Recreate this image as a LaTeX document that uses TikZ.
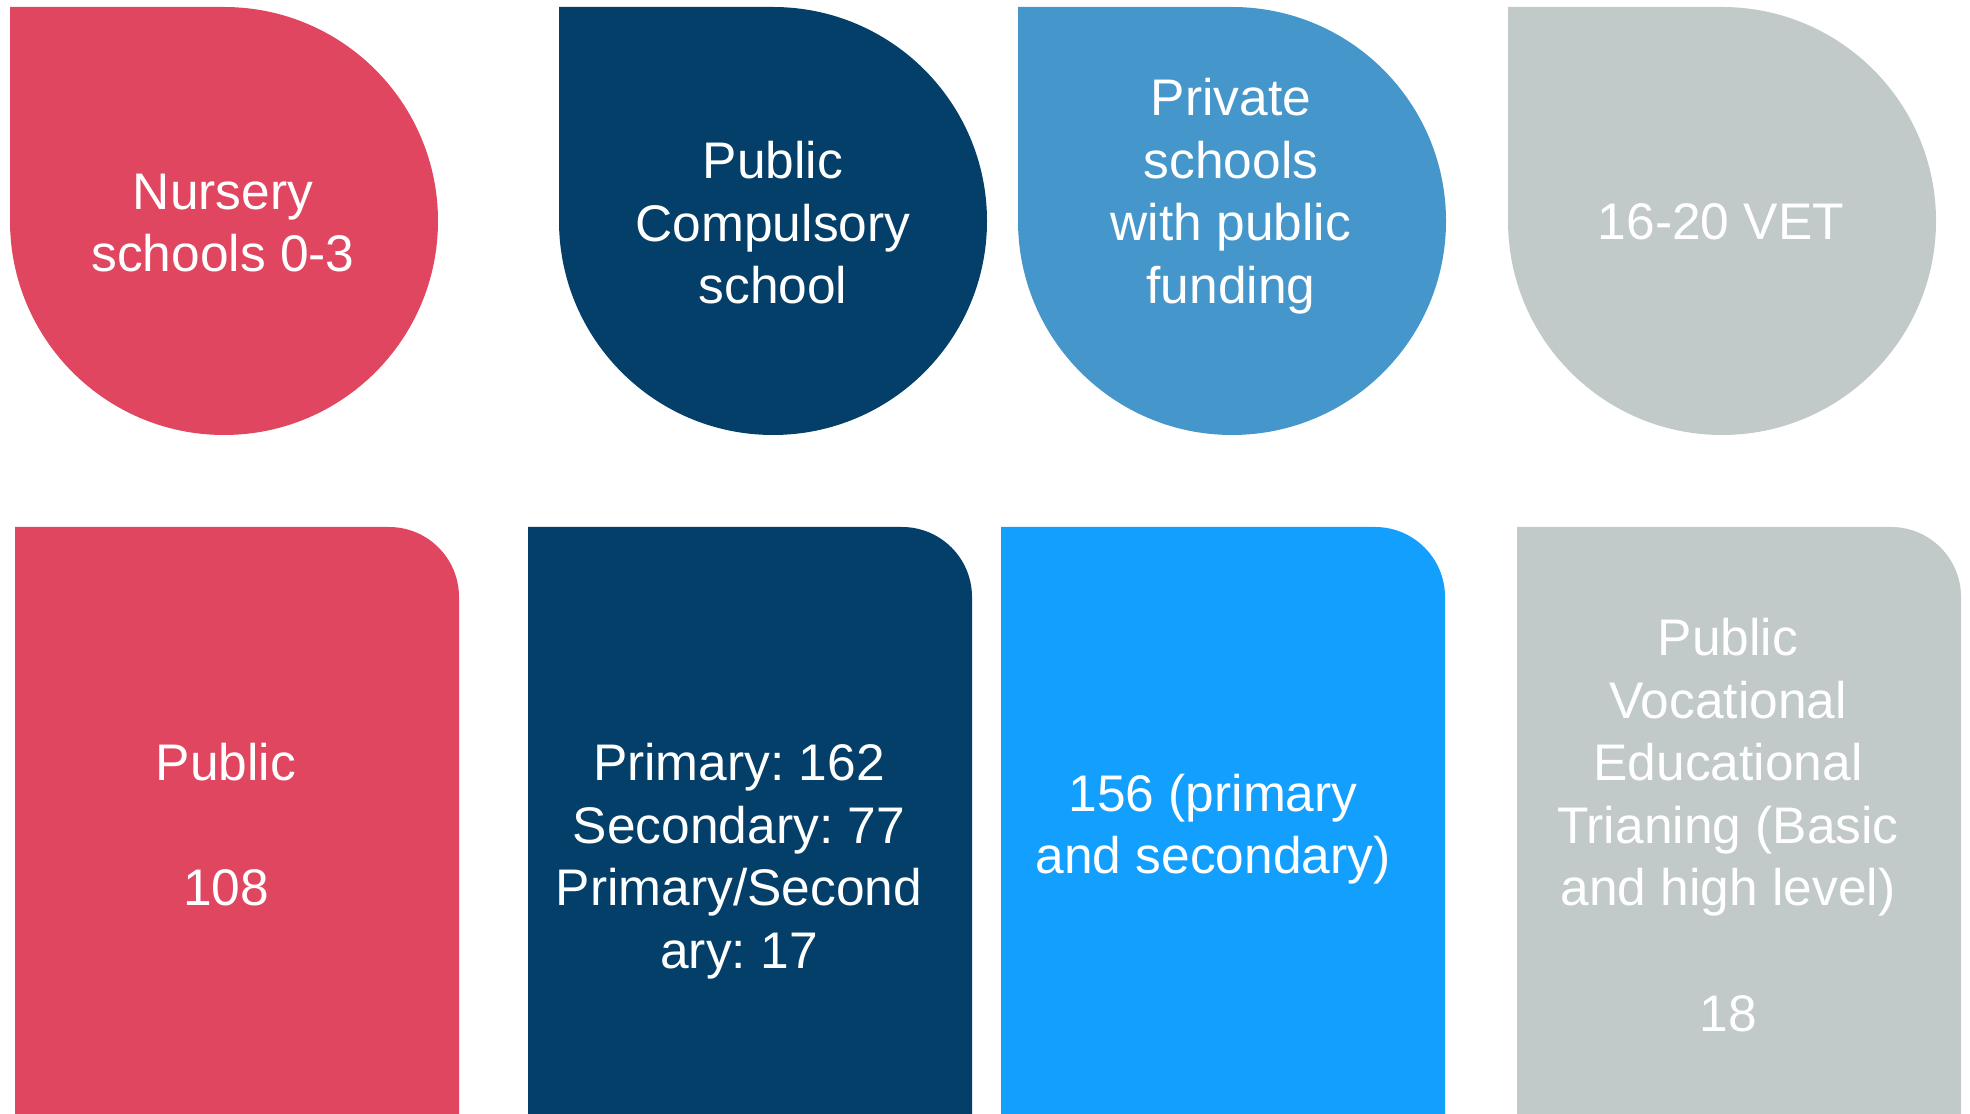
\documentclass[tikz,border=0pt]{standalone}
\usepackage{fontspec}
\setmainfont{Liberation Sans}
\frenchspacing
\definecolor{cred}{HTML}{E0465F}
\definecolor{cnavy}{HTML}{033F69}
\definecolor{cmid}{HTML}{4596CA}
\definecolor{cgrey}{HTML}{C2C9C9}
\definecolor{cbright}{HTML}{129FFE}
\begin{document}
\begin{tikzpicture}[x=0.1mm,y=0.1mm,
  lbl/.style={text=white,align=center,inner sep=0pt,font=\fontsize{14.65pt}{17.8pt}\selectfont\frenchspacing}]
\useasboundingbox (0,0) rectangle (1970,1113);
% teardrops (top row)
\newcommand{\drop}[2]{\fill[#2] (#1,1106) -- ++(214,0) arc[start angle=90,end angle=-180,radius=214] -- cycle;}
\drop{10}{cred}
\drop{559}{cnavy}
\drop{1018}{cmid}
\drop{1508}{cgrey}
% boxes (bottom row)
\newcommand{\card}[3]{\fill[#3] (#1,-5) -- (#1,586) -- ({#2-70},586) arc[start angle=90,end angle=0,radius=70] -- (#2,-5) -- cycle;}
\card{15}{459}{cred}
\card{528}{972}{cnavy}
\card{1001}{1445}{cbright}
\card{1517}{1961}{cgrey}
% texts
\node[lbl] (t1) at (223,890) {Nursery\\schools 0-3};
\node[lbl] (t2) at (773,890) {Public\\Compulsory\\school};
\node[lbl] (t3) at (1231,917) {Private\\schools\\with public\\funding};
\node[lbl] (t4) at (1721,891) {16-20 VET};
\node[lbl] (b1) at (226,288) {Public\\\strut\\108};
\node[lbl] (b2) at (739,252) {Primary: 162\\Secondary: 77\\Primary/Second\\ary: 17};
\node[lbl] (b3) at (1213,284) {156 (primary\\and secondary)};
\node[lbl] (b4) at (1728,288) {Public\\Vocational\\Educational\\Trianing (Basic\\and high level)\\\strut\\18};
\end{tikzpicture}
\end{document}
